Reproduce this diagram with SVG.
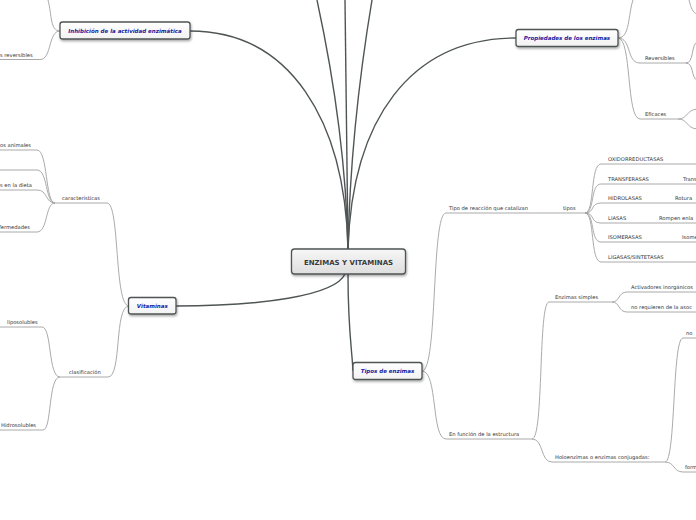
<svg xmlns="http://www.w3.org/2000/svg" width="696" height="520" viewBox="0 0 696 520">
<defs>
<style>
.m{fill:none;stroke:#4f5555;stroke-width:1.4}
.s{fill:none;stroke:#a0a0a0;stroke-width:0.9}
.l{font-family:"DejaVu Sans",Verdana,sans-serif;font-size:5.2px;fill:#333333}
.t{font-family:"DejaVu Sans",Verdana,sans-serif;font-size:5.5px;font-weight:bold;font-style:italic;fill:#1b1b9e;text-anchor:middle}
.r{font-family:"DejaVu Sans",Verdana,sans-serif;font-size:7px;font-weight:bold;fill:#3a3a3a;text-anchor:middle}
.box{fill:url(#g);stroke:#505555;stroke-width:1.3;filter:url(#sh)}
.rbox{fill:url(#rg);stroke:#505555;stroke-width:1.3;filter:url(#sh)}
</style>
<linearGradient id="g" x1="0" y1="0" x2="0" y2="1"><stop offset="0" stop-color="#ffffff"/><stop offset="1" stop-color="#f2f2f2"/></linearGradient>
<linearGradient id="rg" x1="0" y1="0" x2="0" y2="1"><stop offset="0" stop-color="#f7f7f7"/><stop offset="1" stop-color="#dedede"/></linearGradient>
<filter id="sh" x="-10%" y="-30%" width="120%" height="170%"><feDropShadow dx="0.8" dy="1.5" stdDeviation="0.9" flood-color="#000" flood-opacity="0.35"/></filter>
</defs>
<rect width="696" height="520" fill="#ffffff"/>
<g id="connectors">
<path class="m" d="M348,249 C 345,120 290,31 190,31"/>
<path class="m" d="M348,249 C 352,120 410,38 516,38"/>
<path class="m" d="M348,249 C 346,150 330,60 317,0"/>
<path class="m" d="M348,249 C 347,150 345,60 345,0"/>
<path class="m" d="M348,249 C 350,150 362,60 372,0"/>
<path class="m" d="M345,274 C 335,296 260,306 176,306"/>
<path class="m" d="M348,274 C 348,330 352,350 353,371"/>
<path class="s" d="M60,31 C 50,31 52,15 48,0"/>
<path class="s" d="M60,31 C 48,31 52,59.5 40,59.5 H0"/>
<path class="s" d="M618,38 C 630,38 628,15 633,0"/>
<path class="s" d="M618,38 C 632,38 626,63 640,63 H687"/>
<path class="s" d="M618,38 C 632,38 626,119 640,119 H678"/>
<path class="s" d="M686,63 C 694,63 691,45 697,42"/>
<path class="s" d="M686,63 C 694,63 691,78 697,80"/>
<path class="s" d="M678,119 C 688,119 686,110 697,109"/>
<path class="s" d="M678,119 C 688,119 686,128 697,129"/>
<path class="s" d="M689,0 C 691,8 693,13 697,14"/>
<path class="s" d="M129,306 C 114,306 120,203 107,203 H55"/>
<path class="s" d="M129,306 C 114,306 122,377 108,377 H60"/>
<path class="s" d="M55,203 C 45,203 48,150 37,150 H0"/>
<path class="s" d="M55,203 C 45,203 48,170 37,170 H0"/>
<path class="s" d="M55,203 C 45,203 48,190 37,190 H0"/>
<path class="s" d="M55,203 C 45,203 48,232 37,232 H0"/>
<path class="s" d="M60,377 C 48,377 52,327 42,327 H0"/>
<path class="s" d="M60,377 C 48,377 52,430 43,430 H0"/>
<path class="s" d="M422,371 C 438,371 431,213 446,213 H585"/>
<path class="s" d="M422,371 C 438,371 431,439 446,439 H532"/>
<path class="s" d="M585,213 C 595,213 590,164 601,164 H697"/>
<path class="s" d="M585,213 C 595,213 590,184 601,184 H697"/>
<path class="s" d="M585,213 C 595,213 590,203 601,203 H697"/>
<path class="s" d="M585,213 C 595,213 590,223 601,223 H697"/>
<path class="s" d="M585,213 C 595,213 590,242 601,242 H697"/>
<path class="s" d="M585,213 C 595,213 590,262 601,262 H697"/>
<path class="s" d="M532,439 C 544,439 538,302 549,302 H612"/>
<path class="s" d="M532,439 C 544,439 540,462 552,462 H665"/>
<path class="s" d="M612,302 C 620,302 618,292 627,292 H697"/>
<path class="s" d="M612,302 C 620,302 618,312 627,312 H697"/>
<path class="s" d="M665,462 C 676,462 672,338 683,338 H697"/>
<path class="s" d="M665,462 C 675,462 673,472 683,472 H697"/>
</g>
<g id="labels">
<text class="l" x="0" y="56.5">s reversibles</text>
<text class="l" x="0" y="147">os animales</text>
<text class="l" x="0" y="187">s en la dieta</text>
<text class="l" x="-1" y="229">fermedades</text>
<text class="l" x="62" y="200">características</text>
<text class="l" x="69" y="374">clasificación</text>
<text class="l" x="7" y="324">liposolubles</text>
<text class="l" x="1" y="427">Hidrosolubles</text>
<text class="l" x="645" y="60">Reversibles</text>
<text class="l" x="645" y="116">Eficaces</text>
<text class="l" x="449" y="210">Tipo de reacción que catalizan</text>
<text class="l" x="563" y="210">tipos</text>
<text class="l" x="608" y="161">OXIDORREDUCTASAS</text>
<text class="l" x="608" y="181">TRANSFERASAS</text>
<text class="l" x="683" y="181">Trans</text>
<text class="l" x="608" y="200">HIDROLASAS</text>
<text class="l" x="675" y="200">Rotura</text>
<text class="l" x="659" y="220">Rompen enla</text>
<text class="l" x="608" y="220">LIASAS</text>
<text class="l" x="608" y="239">ISOMERASAS</text>
<text class="l" x="682" y="239">Isomer</text>
<text class="l" x="608" y="259">LIGASAS/SINTETASAS</text>
<text class="l" x="449" y="436">En función de la estructura</text>
<text class="l" x="555" y="299">Enzimas simples</text>
<text class="l" x="555" y="459">Holoenzimas o enzimas conjugadas:</text>
<text class="l" x="631" y="289">Activadores inorgánicos</text>
<text class="l" x="631" y="309">no requieren de la asoc</text>
<text class="l" x="686" y="335">no</text>
<text class="l" x="685" y="469">form</text>
</g>
<g id="root">
<rect class="rbox" x="291.5" y="249" width="114" height="25" rx="3"/>
<text class="r" x="348.5" y="264.5">ENZIMAS Y VITAMINAS</text>
</g>
<g id="inhibicion">
<rect class="box" x="60" y="22" width="130" height="17" rx="2.5"/>
<text class="t" x="125" y="33">Inhibición de la actividad enzimática</text>
</g>
<g id="propiedades">
<rect class="box" x="516" y="29.5" width="102" height="17" rx="2.5"/>
<text class="t" x="567" y="40">Propiedades de los enzimas</text>
</g>
<g id="vitaminas">
<rect class="box" x="128.5" y="297.5" width="47.5" height="16.5" rx="2.5"/>
<text class="t" x="152.3" y="308">Vitaminas</text>
</g>
<g id="tipos">
<rect class="box" x="353" y="362.5" width="69" height="17" rx="2.5"/>
<text class="t" x="387.5" y="373">Tipos de enzimas</text>
</g>
</svg>
